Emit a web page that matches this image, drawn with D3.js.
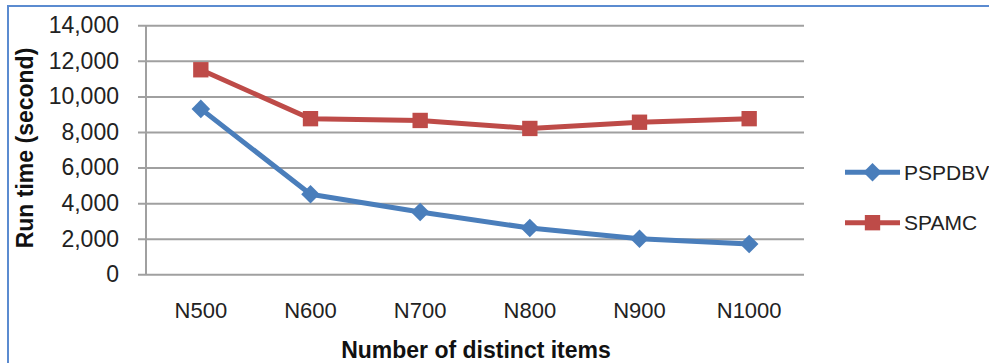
<!DOCTYPE html>
<html>
<head>
<meta charset="utf-8">
<script src="https://cdn.jsdelivr.net/npm/d3@7/dist/d3.min.js"></script>
<style>
  html, body { margin: 0; padding: 0; background: #fff; }
  svg { display: block; font-family: "Liberation Sans", Arial, sans-serif; }
</style>
</head>
<body>
<svg id="chart" width="989" height="363"></svg>
<script>
// Run time per dataset size for the two algorithms
const categories = ["N500", "N600", "N700", "N800", "N900", "N1000"];
const pspdbv = [9300, 4500, 3500, 2600, 2000, 1700];
const spamc = [11500, 8750, 8650, 8200, 8550, 8750];
const yTicks = [0, 2000, 4000, 6000, 8000, 10000, 12000, 14000];
const seriesNames = ["PSPDBV", "SPAMC"];
const seriesColors = ["#4a7ebb", "#be4b48"];

const svg = d3.select("#chart");

// Outer chart frame (extends past the right/bottom edges)
svg.append("rect")
  .attr("x", 8).attr("y", 6)
  .attr("width", 1000).attr("height", 400)
  .attr("fill", "none").attr("stroke", "#5b8bd0").attr("stroke-width", 2);

const plot = { left: 146, right: 804, top: 25.3, bottom: 274.3 };

const x = d3.scaleBand().domain(categories).range([plot.left, plot.right]);
const y = d3.scaleLinear().domain([0, 14000]).range([plot.bottom, plot.top]);
const fmt = d3.format(",");

// Horizontal gridlines with tick marks and labels
const yAxis = d3.axisLeft(y).tickValues(yTicks).tickFormat(v => fmt(v))
  .tickSize(-(plot.right - plot.left)).tickPadding(20);
const gy = svg.append("g").attr("transform", `translate(${plot.left},0)`).call(yAxis);
gy.select(".domain").remove();
gy.selectAll(".tick line").attr("stroke", "#a0a0a0").attr("stroke-width", 2)
  .attr("x1", -8);
gy.selectAll(".tick text").attr("font-size", 23).attr("fill", "#222").attr("x", -27);

// Vertical axis line
svg.append("line")
  .attr("x1", plot.left).attr("x2", plot.left)
  .attr("y1", plot.top).attr("y2", plot.bottom)
  .attr("stroke", "#a0a0a0").attr("stroke-width", 2);

// Category labels
const xAxis = d3.axisBottom(x).tickSize(0).tickPadding(28);
const gx = svg.append("g").attr("transform", `translate(0,${plot.bottom})`).call(xAxis);
gx.select(".domain").remove();
gx.selectAll(".tick text").attr("font-size", 22).attr("fill", "#222");

// Axis titles
svg.append("text")
  .attr("x", 476).attr("y", 358)
  .attr("text-anchor", "middle").attr("font-size", 23).attr("font-weight", "bold")
  .attr("fill", "#111").text("Number of distinct items");

svg.append("text")
  .attr("transform", "translate(33,148) rotate(-90)")
  .attr("text-anchor", "middle").attr("font-size", 23).attr("font-weight", "bold")
  .attr("fill", "#111").text("Run time (second)");

// Series lines and markers
const cx = c => x(c) + x.bandwidth() / 2;
const line = d3.line().x(d => cx(d.c)).y(d => y(d.v));
const allSeries = [pspdbv, spamc];

allSeries.forEach((vals, i) => {
  const pts = vals.map((v, j) => ({ c: categories[j], v }));
  svg.append("path").datum(pts)
    .attr("d", line).attr("fill", "none")
    .attr("stroke", seriesColors[i]).attr("stroke-width", 5)
    .attr("stroke-linejoin", "round");
  const sym = i === 0 ? d3.symbol(d3.symbolDiamond2, 220) : d3.symbol(d3.symbolSquare2, 300);
  svg.append("g").selectAll("path").data(pts).join("path")
    .attr("transform", d => `translate(${cx(d.c)},${y(d.v)})`)
    .attr("d", sym)
    .attr("fill", seriesColors[i]);
});

// Legend
const legendY = [172.3, 222.7];
seriesNames.forEach((name, i) => {
  const g = svg.append("g");
  g.append("line").attr("x1", 845).attr("x2", 900)
    .attr("y1", legendY[i]).attr("y2", legendY[i])
    .attr("stroke", seriesColors[i]).attr("stroke-width", 5);
  const sym = i === 0 ? d3.symbol(d3.symbolDiamond2, 220) : d3.symbol(d3.symbolSquare2, 300);
  g.append("path").attr("transform", `translate(872.5,${legendY[i]})`)
    .attr("d", sym).attr("fill", seriesColors[i]);
  g.append("text").attr("x", 904).attr("y", legendY[i] + 7.5)
    .attr("font-size", 21).attr("fill", "#222").text(name);
});
</script>
</body>
</html>
